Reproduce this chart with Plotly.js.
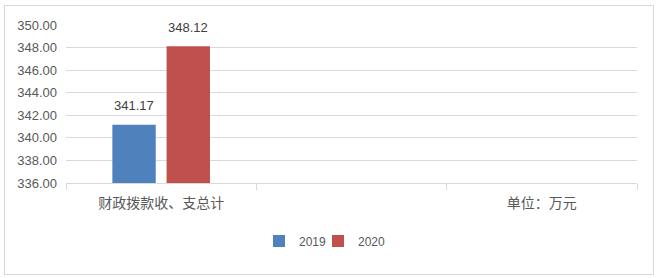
<!DOCTYPE html>
<html><head><meta charset="utf-8">
<script src="https://cdn.plot.ly/plotly-3.0.1.min.js"></script>
<style>
html,body{margin:0;padding:0;background:#fff;}
#wrap{position:relative;width:659px;height:278px;}
#box{position:absolute;left:4px;top:5px;width:648px;height:268px;border:1px solid #d9d9d9;pointer-events:none;}
#chart{position:absolute;left:0;top:0;width:659px;height:278px;}
</style></head>
<body>
<div id="wrap"><div id="chart"></div><div id="box"></div></div>
<script>
const categories = ["财政拨款收、支总计", " ", "单位：万元"];
const values2019 = [341.17, null, null];
const values2020 = [348.12, null, null];
const seriesNames = ["2019", "2020"];
const seriesColors = ["#4F81BD", "#C0504D"];
const yTicks = [336, 338, 340, 342, 344, 346, 348, 350];

const labelFont = {family: "Liberation Sans, Noto Sans CJK SC, sans-serif", size: 13, color: "#404040"};
const series = [values2019, values2020];
const traces = series.map((vals, i) => ({
  type: "bar", name: seriesNames[i], x: categories, y: vals, marker: {color: seriesColors[i]},
  legend: i === 0 ? "legend" : "legend2", hoverinfo: "none"
}));
const annotations = [];
series.forEach((vals, i) => {
  vals.forEach((v, j) => {
    if (v == null) return;
    annotations.push({x: categories[j], y: v, xref: "x", yref: "y", text: v.toFixed(2),
      showarrow: false, xshift: i === 0 ? -27 : 27, yshift: 19, yanchor: "middle", font: labelFont});
  });
});
const legendFont = {family: "Liberation Sans, sans-serif", size: 12, color: "#595959"};
const layout = {
  width: 659, height: 278,
  margin: {l: 66, r: 22, t: 25, b: 95, autoexpand: false},
  paper_bgcolor: "rgba(0,0,0,0)", plot_bgcolor: "rgba(0,0,0,0)",
  barmode: "group", bargap: 0.43, bargroupgap: 0.2,
  showlegend: true,
  annotations: annotations,
  legend: {orientation: "h", x: (259 - 66) / 571, xanchor: "left", y: -0.367, yanchor: "middle", font: legendFont, bgcolor: "rgba(0,0,0,0)"},
  legend2: {orientation: "h", x: (318 - 66) / 571, xanchor: "left", y: -0.367, yanchor: "middle", font: legendFont, bgcolor: "rgba(0,0,0,0)"},
  xaxis: {type: "category", automargin: false, showgrid: false, showline: true, linecolor: "#d9d9d9", linewidth: 1,
          ticks: "outside", tickson: "boundaries", ticklen: 6, tickcolor: "#d9d9d9", tickangle: 0,
          tickfont: {family: "Noto Sans CJK SC, sans-serif", size: 14, color: "#595959"}, ticklabelstandoff: 7, fixedrange: true},
  yaxis: {automargin: false, range: [336, 350], tickvals: yTicks, ticktext: yTicks.map(v => v.toFixed(2)),
          showgrid: true, gridcolor: "#d9d9d9", gridwidth: 1, zeroline: false, showline: false,
          tickfont: {family: "Liberation Sans, sans-serif", size: 13, color: "#595959"}, ticklabelstandoff: 8, fixedrange: true}
};
Plotly.newPlot("chart", traces, layout, {displayModeBar: false, staticPlot: true});
</script>
</body></html>
